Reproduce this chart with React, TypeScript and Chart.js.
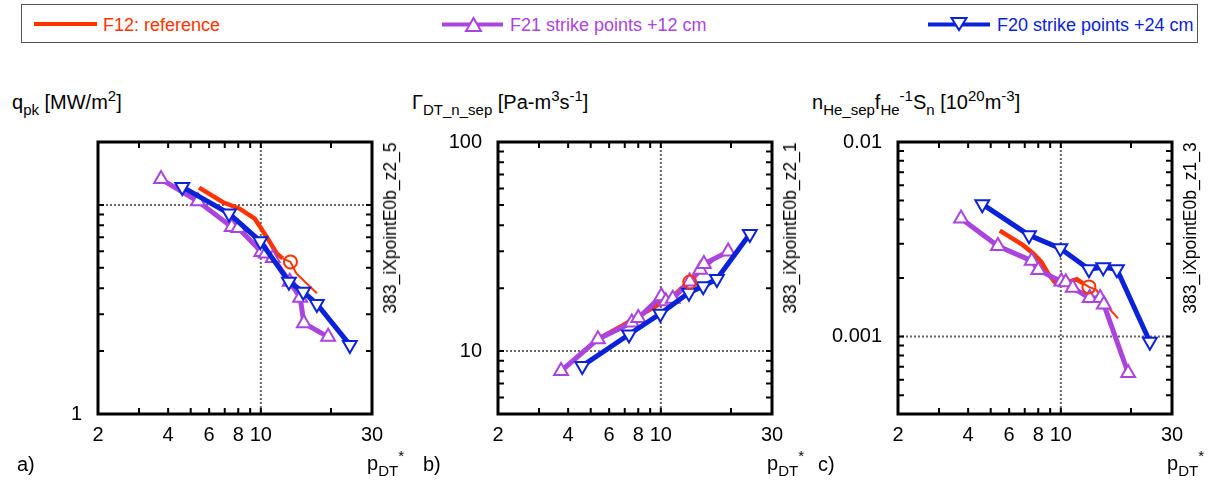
import React, { useEffect, useRef } from 'react';
import { Chart, registerables } from 'chart.js';
Chart.register(...registerables);

const RED = '#ff3300';
const PURPLE = '#aa44dd';
const BLUE = '#0a22d8';
const FONT = '"Liberation Sans", Arial, Helvetica, sans-serif';

// shared x axis
const xTicks = [2, 3, 4, 5, 6, 7, 8, 9, 10, 20, 30];
const xLabels = [2, 4, 6, 8, 10, 30];

// F21 strike points +12 cm (purple, up triangles)
const purpleX = [3.73, 5.37, 7.5, 8.0, 10.05, 10.5, 11.25, 13.3, 14.75, 15.3, 19.45];
const purpleA = [13.3, 10.4, 7.85, 7.76, 5.96, 5.86, 5.58, 4.29, 3.6, 2.72, 2.34];
const purpleB = [8.03, 11.4, 13.7, 14.4, 18.3, 17.3, 17.8, 21.5, 24.5, 26.1, 29.9];
const purpleC = [0.00405, 0.00292, 0.00245, 0.0022, 0.00192, 0.0019, 0.00178, 0.00158, 0.00158, 0.00146, 0.00065];

// F20 strike points +24 cm (blue, down triangles)
const blueX = [4.6, 7.3, 9.95, 13.2, 15.2, 17.4, 24.1];
const blueA = [12.2, 9.09, 6.7, 4.29, 3.84, 3.36, 2.14];
const blueB = [8.49, 12.0, 15.1, 19.0, 20.4, 22.1, 36.3];
const blueC = [0.00479, 0.00332, 0.00284, 0.00222, 0.00227, 0.00222, 0.00094];

// F12 reference (red line: thick part, thin part, circle)
const redThickXA = [5.43, 6.88, 8.11, 9.41, 10.6, 11.7, 12.4];
const redThickA = [12.1, 10.3, 9.6, 8.61, 7.03, 5.86, 5.55];
const redThinXA = [12.4, 13.4, 14.2, 17.4];
const redThinA = [5.55, 5.34, 4.7, 3.78];
const redThickXB = [5.43, 6.88, 8.11, 9.41, 10.6, 11.7, 12.4];
const redThickB = [11.5, 13.3, 14.8, 16.3, 17.6, 19.0, 20.2];
const redThinXB = [12.4, 13.3, 14.2, 17.6];
const redThinB = [20.2, 21.4, 22.8, 28.5];
const redThickXC = [5.47, 6.88, 7.59, 8.25, 8.81, 9.5, 10.05, 11.0, 11.7, 12.4];
const redThickC = [0.0035, 0.00295, 0.00268, 0.00242, 0.00211, 0.00188, 0.00186, 0.00192, 0.00197, 0.00188];
const redThinXC = [12.4, 13.2, 14.2, 15.4, 17.6];
const redThinC = [0.00188, 0.0018, 0.00174, 0.00148, 0.00124];
const circleA = [13.4, 5.34];
const circleB = [13.3, 21.4];
const circleC = [13.2, 0.0018];

// y axes
const yTicksA = [1, 2, 3, 4, 5, 6, 7, 8, 9, 10, 20];
const yLabelsA = [1];
const yTicksB = [5, 6, 7, 8, 9, 10, 20, 30, 40, 50, 60, 70, 80, 90, 100];
const yLabelsB = [10, 100];
const yTicksC = [0.0004, 0.0005, 0.0006, 0.0007, 0.0008, 0.0009, 0.001, 0.002, 0.003, 0.004, 0.005, 0.006, 0.007, 0.008, 0.009, 0.01];
const yLabelsC = [0.001, 0.01];

const pts = (xs: number[], ys: number[]) => xs.map((x, i) => ({ x, y: ys[i] }));

function makeFrame(gridX: number, gridY: number, yTicks: number[]) {
  return {
    id: 'frame',
    beforeDatasetsDraw(chart: any) {
      const { ctx, chartArea: a, scales } = chart;
      const px = scales.x.getPixelForValue(gridX);
      const py = scales.y.getPixelForValue(gridY);
      ctx.save();
      ctx.strokeStyle = '#666';
      ctx.lineWidth = 2;
      ctx.setLineDash([2, 2]);
      ctx.beginPath();
      ctx.moveTo(px, a.top);
      ctx.lineTo(px, a.bottom);
      ctx.moveTo(a.left, py);
      ctx.lineTo(a.right, py);
      ctx.stroke();
      ctx.restore();
    },
    afterDraw(chart: any) {
      const { ctx, chartArea: a, scales } = chart;
      ctx.save();
      ctx.strokeStyle = '#000';
      ctx.lineWidth = 2;
      const len = 6;
      ctx.beginPath();
      xTicks.forEach((v) => {
        const x = scales.x.getPixelForValue(v);
        ctx.moveTo(x, a.top);
        ctx.lineTo(x, a.top + len);
        ctx.moveTo(x, a.bottom);
        ctx.lineTo(x, a.bottom - len);
      });
      yTicks.forEach((v) => {
        const y = scales.y.getPixelForValue(v);
        ctx.moveTo(a.left, y);
        ctx.lineTo(a.left + len, y);
        ctx.moveTo(a.right, y);
        ctx.lineTo(a.right - len, y);
      });
      ctx.stroke();
      ctx.lineWidth = 3;
      ctx.strokeRect(a.left, a.top, a.right - a.left, a.bottom - a.top);
      ctx.restore();
    },
  };
}

type PanelProps = {
  left: number;
  top: number;
  purpleY: number[];
  blueY: number[];
  thickX: number[];
  thickY: number[];
  thinX: number[];
  thinY: number[];
  circle: number[];
  yMin: number;
  yMax: number;
  yTicks: number[];
  yLabels: number[];
  gridY: number;
};

const Y_W = 72;

function Panel(p: PanelProps) {
  const ref = useRef<HTMLCanvasElement | null>(null);
  useEffect(() => {
    if (!ref.current) return;
    const tri = {
      borderWidth: 5,
      pointRadius: 8,
      pointBorderWidth: 2,
      pointBackgroundColor: '#ffffff',
      tension: 0,
    };
    const chart = new Chart(ref.current, {
      type: 'line',
      data: {
        datasets: [
          {
            label: 'circle',
            data: [{ x: p.circle[0], y: p.circle[1] }],
            showLine: false,
            pointStyle: 'circle',
            pointRadius: 6.5,
            pointBorderWidth: 2,
            borderColor: RED,
            pointBorderColor: RED,
            pointBackgroundColor: 'rgba(0,0,0,0)',
          },
          {
            label: 'F20 strike points +24 cm',
            data: pts(blueX, p.blueY),
            borderColor: BLUE,
            pointBorderColor: BLUE,
            pointStyle: 'triangle',
            pointRotation: 180,
            ...tri,
          },
          {
            label: 'F21 strike points +12 cm',
            data: pts(purpleX, p.purpleY),
            borderColor: PURPLE,
            pointBorderColor: PURPLE,
            pointStyle: 'triangle',
            ...tri,
          },
          {
            label: 'F12: reference',
            data: pts(p.thickX, p.thickY),
            borderColor: RED,
            borderWidth: 4.5,
            pointRadius: 0,
            tension: 0,
          },
          {
            label: 'F12 thin',
            data: pts(p.thinX, p.thinY),
            borderColor: RED,
            borderWidth: 2,
            pointRadius: 0,
            tension: 0,
          },
        ],
      } as any,
      options: {
        animation: false,
        responsive: false,
        devicePixelRatio: 1,
        layout: { padding: { left: 0, top: 14, right: 12, bottom: 0 } },
        plugins: { legend: { display: false }, tooltip: { enabled: false } },
        scales: {
          x: {
            type: 'logarithmic',
            min: 2,
            max: 30,
            grid: { display: false },
            border: { display: false },
            afterBuildTicks: (s: any) => {
              s.ticks = xTicks.map((v) => ({ value: v }));
            },
            afterFit: (s: any) => {
              s.height = 40;
              s.paddingLeft = 0;
              s.paddingRight = 0;
            },
            ticks: {
              autoSkip: false,
              maxRotation: 0,
              minRotation: 0,
              padding: 1,
              color: '#000',
              font: { size: 20, family: FONT },
              callback: (v: any) => (xLabels.includes(Number(v)) ? String(v) : ''),
            },
          },
          y: {
            type: 'logarithmic',
            min: p.yMin,
            max: p.yMax,
            grid: { display: false },
            border: { display: false },
            afterBuildTicks: (s: any) => {
              s.ticks = p.yTicks.map((v) => ({ value: v }));
            },
            afterFit: (s: any) => {
              s.width = Y_W;
              s.paddingTop = 0;
              s.paddingBottom = 0;
            },
            ticks: {
              autoSkip: false,
              padding: 8,
              color: '#000',
              font: { size: 20, family: FONT },
              callback: (v: any) => (p.yLabels.includes(Number(v)) ? String(v) : ''),
            },
          },
        },
      } as any,
      plugins: [makeFrame(10, p.gridY, p.yTicks)],
    });
    return () => chart.destroy();
  }, []);
  const w = Y_W + 274 + 12;
  return (
    <canvas
      ref={ref}
      width={w}
      height={326}
      style={{ position: 'absolute', left: p.left - Y_W, top: p.top - 14, width: w, height: 326 }}
    />
  );
}

const sub: React.CSSProperties = { fontSize: 15, verticalAlign: '-6px', lineHeight: 0 };
const sup: React.CSSProperties = { fontSize: 15, verticalAlign: '8px', lineHeight: 0 };
const txt: React.CSSProperties = { position: 'absolute', fontSize: 18, lineHeight: '18px', whiteSpace: 'nowrap' };
const ttl: React.CSSProperties = { position: 'absolute', fontSize: 20, lineHeight: '20px', whiteSpace: 'nowrap' };

function SideLabel({ x, text }: { x: number; text: string }) {
  return (
    <div
      style={{
        position: 'absolute',
        left: x,
        top: 228,
        fontSize: 17.5,
        lineHeight: '18px',
        whiteSpace: 'nowrap',
        transform: 'translate(-50%, -50%) rotate(-90deg)',
      }}
    >
      {text}
    </div>
  );
}

function PLabel({ x }: { x: number }) {
  return (
    <div style={{ ...ttl, left: x, top: 453 }}>
      p<span style={sub}>DT</span>
      <span style={{ ...sup, verticalAlign: '9px' }}>*</span>
    </div>
  );
}

export default function App() {
  return (
    <div
      style={{
        position: 'absolute',
        left: 0,
        top: 0,
        width: 1208,
        height: 486,
        background: '#fff',
        fontFamily: FONT,
        color: '#000',
        overflow: 'hidden',
      }}
    >
      {/* legend */}
      <div
        style={{
          position: 'absolute',
          left: 21,
          top: 4,
          width: 1177,
          height: 39,
          boxSizing: 'border-box',
          border: '1.5px solid #555',
        }}
      />
      <svg width={1208} height={48} style={{ position: 'absolute', left: 0, top: 0 }}>
        <line x1={34} y1={24} x2={97} y2={24} stroke={RED} strokeWidth={4} />
        <line x1={442} y1={24.5} x2={503} y2={24.5} stroke={PURPLE} strokeWidth={4} />
        <polygon points="466,31 481,31 473.5,18" fill="#fff" stroke={PURPLE} strokeWidth={2} />
        <line x1={928} y1={24.5} x2={990} y2={24.5} stroke={BLUE} strokeWidth={4} />
        <polygon points="951.5,18 966.5,18 959,30" fill="#fff" stroke={BLUE} strokeWidth={2} />
      </svg>
      <div style={{ ...txt, left: 103, top: 15.5, color: RED }}>F12: reference</div>
      <div style={{ ...txt, left: 510, top: 15.5, color: PURPLE }}>F21 strike points +12 cm</div>
      <div style={{ ...txt, left: 997, top: 15.5, color: BLUE }}>F20 strike points +24 cm</div>

      {/* axis titles */}
      <div style={{ ...ttl, left: 12, top: 92 }}>
        q<span style={sub}>pk</span> [MW/m<span style={sup}>2</span>]
      </div>
      <div style={{ ...ttl, left: 412, top: 92 }}>
        Γ<span style={sub}>DT_n_sep</span> [Pa-m<span style={sup}>3</span>s<span style={sup}>-1</span>]
      </div>
      <div style={{ ...ttl, left: 812, top: 92 }}>
        n<span style={sub}>He_sep</span>f<span style={sub}>He</span>
        <span style={sup}>-1</span>S<span style={sub}>n</span> [10<span style={sup}>20</span>m<span style={sup}>-3</span>]
      </div>

      <Panel
        left={98}
        top={142}
        purpleY={purpleA}
        blueY={blueA}
        thickX={redThickXA}
        thickY={redThickA}
        thinX={redThinXA}
        thinY={redThinA}
        circle={circleA}
        yMin={1}
        yMax={20}
        yTicks={yTicksA}
        yLabels={yLabelsA}
        gridY={10}
      />
      <Panel
        left={498}
        top={142}
        purpleY={purpleB}
        blueY={blueB}
        thickX={redThickXB}
        thickY={redThickB}
        thinX={redThinXB}
        thinY={redThinB}
        circle={circleB}
        yMin={5}
        yMax={100}
        yTicks={yTicksB}
        yLabels={yLabelsB}
        gridY={10}
      />
      <Panel
        left={898}
        top={142}
        purpleY={purpleC}
        blueY={blueC}
        thickX={redThickXC}
        thickY={redThickC}
        thinX={redThinXC}
        thinY={redThinC}
        circle={circleC}
        yMin={0.0004}
        yMax={0.01}
        yTicks={yTicksC}
        yLabels={yLabelsC}
        gridY={0.001}
      />

      <SideLabel x={390} text="383_iXpointE0b_z2_5" />
      <SideLabel x={790} text="383_iXpointE0b_z2_1" />
      <SideLabel x={1190} text="383_iXpointE0b_z1_3" />

      <div style={{ ...ttl, left: 17, top: 454 }}>a)</div>
      <div style={{ ...ttl, left: 423, top: 454 }}>b)</div>
      <div style={{ ...ttl, left: 818, top: 454 }}>c)</div>
      <PLabel x={367} />
      <PLabel x={767} />
      <PLabel x={1167} />
    </div>
  );
}
